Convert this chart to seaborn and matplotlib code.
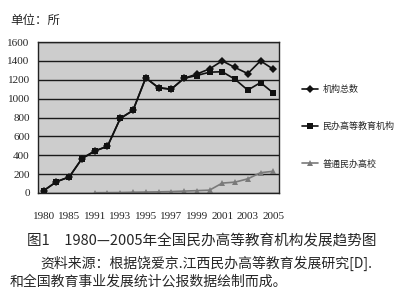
import numpy as np
import pandas as pd
import matplotlib
matplotlib.use('Agg')
import matplotlib.pyplot as plt
import seaborn as sns

# ---- data ----
years = ['1980', '1982', '1985', '1989', '1991', '1992', '1993', '1994', '1995', '1996',
         '1997', '1998', '1999', '2000', '2001', '2002', '2003', '2004', '2005']
total = [25, 120, 170, 365, 445, 495, 790, 875, 1220, 1115,
         1100, 1215, 1260, 1315, 1400, 1330, 1265, 1400, 1312]
minban = [25, 120, 170, 365, 445, 495, 790, 875, 1220, 1115,
          1100, 1215, 1245, 1280, 1285, 1205, 1090, 1170, 1060]
putong_years = ['1991', '1992', '1993', '1994', '1995', '1996', '1997', '1998', '1999', '2000',
                '2001', '2002', '2003', '2004', '2005']
putong = [3, 4, 5, 8, 10, 12, 15, 20, 25, 30, 105, 115, 150, 215, 230]
series_names = ['机构总数', '民办高等教育机构', '普通民办高校']
yticks = [0, 200, 400, 600, 800, 1000, 1200, 1400, 1600]
xtick_labels = ['1980', '1985', '1991', '1993', '1995', '1997', '1999', '2001', '2003', '2005']

sns.set_style('white')
plt.rcParams['font.family'] = ['Noto Sans CJK SC', 'DejaVu Sans']

rows = []
for name, yrs, vals in [(series_names[0], years, total),
                        (series_names[1], years, minban),
                        (series_names[2], putong_years, putong)]:
    for y, v in zip(yrs, vals):
        rows.append({'pos': years.index(y), 'value': v, 'series': name})
df = pd.DataFrame(rows)

fig = plt.figure(figsize=(4, 3), dpi=100)
ax = fig.add_axes([38 / 400, 1 - 193 / 300, (279 - 38) / 400, (193 - 42) / 300])
ax.set_facecolor('#cdcdcd')

sns.lineplot(data=df, x='pos', y='value', hue='series', style='series',
             hue_order=series_names, style_order=series_names,
             palette={series_names[0]: '#111111', series_names[1]: '#111111', series_names[2]: '#7a7a7a'},
             markers={series_names[0]: 'D', series_names[1]: 's', series_names[2]: '^'},
             dashes=False, markersize=4, markeredgewidth=0, linewidth=1.2, ax=ax)

ax.set_xlim(-0.45, 18.45)
ax.set_ylim(0, 1600)
ax.set_yticks(yticks)
ax.set_yticklabels([str(t) for t in yticks], family='Liberation Serif', fontsize=8)
label_pos = [years.index(l) for l in xtick_labels]
ax.set_xticks(label_pos)
ax.set_xticklabels(xtick_labels, family='Liberation Serif', fontsize=8)
ax.tick_params(axis='x', pad=14, length=0)
ax.tick_params(axis='y', pad=6, length=0)
ax.yaxis.grid(True, color='#1a1a1a', linewidth=1.0)
ax.set_axisbelow(True)
for s in ax.spines.values():
    s.set_color('#222222')
    s.set_linewidth(1.0)
ax.set_xlabel('')
ax.set_ylabel('')

sns.move_legend(ax, 'upper left', bbox_to_anchor=(0.755, 0.717), bbox_transform=fig.transFigure,
                frameon=False, title=None, fontsize=6.5, labelspacing=3.1,
                handlelength=1.8, handletextpad=0.45, borderpad=0, borderaxespad=0)

fig.text(10 / 400, 1 - 20 / 300, '单位：所', fontsize=9, va='center', ha='left')
fig.text(27 / 400, 1 - 242 / 300, '图1　1980—2005年全国民办高等教育机构发展趋势图',
         fontsize=10.5, va='center', ha='left')
fig.text(40 / 400, 1 - 263 / 300, '资料来源：根据饶爱京.江西民办高等教育发展研究[D].',
         fontsize=10, va='center', ha='left')
fig.text(10 / 400, 1 - 282 / 300, '和全国教育事业发展统计公报数据绘制而成。',
         fontsize=10, va='center', ha='left')

fig.savefig('out.png', dpi=100)
